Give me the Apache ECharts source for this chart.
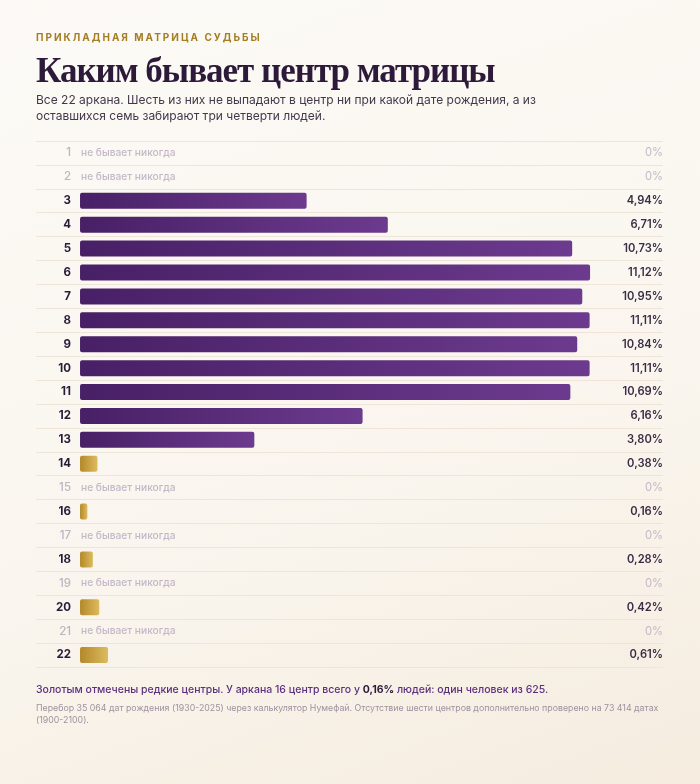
<!DOCTYPE html>
<html lang="ru">
<head>
<meta charset="utf-8">
<script src="https://cdn.jsdelivr.net/npm/echarts@6/dist/echarts.min.js"></script>
<style>
  html, body { margin: 0; padding: 0; }
  body {
    width: 700px; height: 784px; position: relative; overflow: hidden;
    background: linear-gradient(160deg, #fcfaf6 0%, #faf6ef 55%, #f5ecdf 100%);
    font-family: Inter, "Noto Sans", sans-serif;
  }
  #chart { position: absolute; left: 0; top: 0; width: 700px; height: 784px; }
  .txt { position: absolute; left: 36px; margin: 0; }
  .kicker { top: 31px; font-size: 10px; font-weight: 700; letter-spacing: 2px; color: #a57d22; }
  .title { top: 51px; font-family: "Liberation Serif", "DejaVu Serif", serif; font-size: 35px; font-weight: 700; color: #2d1a3a; letter-spacing: -1px; }
  .sub { top: 92px; width: 520px; font-size: 12px; line-height: 16px; color: #44374b; }
  .note { top: 683px; font-size: 10.5px; font-weight: 500; color: #5b2f7e; }
  .note b { color: #2d1a3a; font-weight: 700; }
  .src { top: 702px; width: 640px; font-size: 8.8px; line-height: 12px; color: #9d929f; }
</style>
</head>
<body>
<div id="chart"></div>
<p class="txt kicker">ПРИКЛАДНАЯ МАТРИЦА СУДЬБЫ</p>
<p class="txt title">Каким бывает центр матрицы</p>
<p class="txt sub">Все 22 аркана. Шесть из них не выпадают в центр ни при какой дате рождения, а из оставшихся семь забирают три четверти людей.</p>
<p class="txt note">Золотым отмечены редкие центры. У аркана 16 центр всего у <b>0,16%</b> людей: один человек из 625.</p>
<p class="txt src">Перебор 35 064 дат рождения (1930-2025) через калькулятор Нумефай. Отсутствие шести центров дополнительно проверено на 73 414 датах (1900-2100).</p>
<script>
// арканы и доля людей с таким центром, %
var arcana = ['1','2','3','4','5','6','7','8','9','10','11','12','13','14','15','16','17','18','19','20','21','22'];
var shares = [0, 0, 4.94, 6.71, 10.73, 11.12, 10.95, 11.11, 10.84, 11.11, 10.69, 6.16, 3.80, 0.38, 0, 0.16, 0, 0.28, 0, 0.42, 0, 0.61];
var rareLimit = 1; // ниже этого — "редкий" центр, золотой
var neverText = 'не бывает никогда';

var purple = new echarts.graphic.LinearGradient(0, 0, 1, 0, [
    { offset: 0, color: '#482066' },
    { offset: 1, color: '#6c3a8e' }
]);
var gold = new echarts.graphic.LinearGradient(0, 0, 1, 0, [
    { offset: 0, color: '#b38829' },
    { offset: 1, color: '#ddbb5f' }
]);

function pct(v) {
    return v === 0 ? '0%' : v.toFixed(2).replace('.', ',') + '%';
}

var barData = shares.map(function (v) {
    if (v === 0) {
        return {
            value: 0,
            label: { show: true, position: 'right', distance: 1, formatter: neverText,
                     color: '#c4b8c8', fontSize: 10.2, fontWeight: 500 }
        };
    }
    return { value: v, itemStyle: { color: v < rareLimit ? gold : purple } };
});

var chart = echarts.init(document.getElementById('chart'));

var option = {
    backgroundColor: 'transparent',
    textStyle: { fontFamily: 'Inter, "Noto Sans", sans-serif' },
    grid: { left: 36, right: 37, top: 141, bottom: 117 },
    xAxis: { type: 'value', min: -0.96, max: 12.71, show: false },
    yAxis: [
        {
            type: 'category', data: arcana, inverse: true,
            axisLine: { show: false }, axisTick: { show: false },
            splitLine: { show: true, interval: 0, lineStyle: { color: '#eee4d7', width: 1 } },
            axisLabel: {
                inside: true, align: 'right', margin: 35, interval: 0,
                formatter: function (val, i) {
                    return shares[i] === 0 ? '{z|' + val + '}' : '{n|' + val + '}';
                },
                rich: {
                    n: { fontSize: 11.5, fontWeight: 700, color: '#2b1a38' },
                    z: { fontSize: 11.5, fontWeight: 500, color: '#bfb2c3' }
                }
            }
        },
        {
            type: 'category', data: shares.map(pct), inverse: true, position: 'right',
            axisLine: { show: false }, axisTick: { show: false }, splitLine: { show: false },
            axisLabel: {
                inside: true, margin: 0, interval: 0,
                formatter: function (val, i) {
                    return shares[i] === 0 ? '{z|' + val + '}' : '{n|' + val + '}';
                },
                rich: {
                    n: { fontSize: 11.2, fontWeight: 600, color: '#3a2c44' },
                    z: { fontSize: 11.2, fontWeight: 400, color: '#c4b8c8' }
                }
            }
        }
    ],
    series: [{
        type: 'bar',
        data: barData,
        barWidth: 16,
        itemStyle: { borderRadius: 2 },
        silent: true
    }]
};

chart.setOption(option);
</script>
</body>
</html>
